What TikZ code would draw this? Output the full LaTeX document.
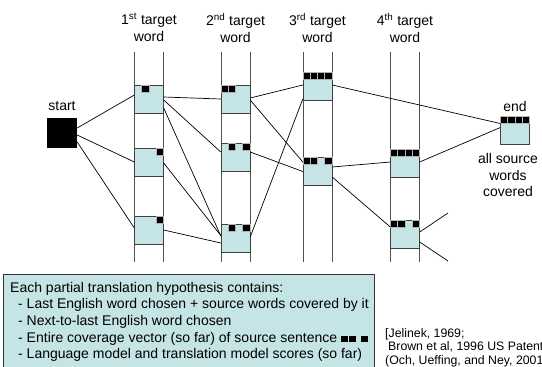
\documentclass[tikz,border=0pt]{standalone}
\usepackage{fontspec}
\setmainfont{Liberation Sans}
\usetikzlibrary{positioning}
\definecolor{hypblue}{HTML}{C4E4E6}
\definecolor{railgray}{HTML}{505050}
\newcommand{\cover}[2]{%
  \foreach \idx in {#2}
    \filldraw[covcell] ([xshift={(\idx-1)*7.25bp}]#1.north west) rectangle ++(7.25,7);}
\newcommand{\cvcell}{\rule{7bp}{6.5bp}}

\begin{document}
\begin{tikzpicture}[
    x=1bp, y=-1bp,
    hyp/.style={
        draw=black!75,
        fill=hypblue,
        minimum width=29bp,
        minimum height=28bp,
        inner sep=0pt
    },
    covcell/.style={fill=black, draw=gray!60, line width=0.3bp},
    link/.style={line width=0.7bp},
    rail/.style={draw=railgray, line width=1bp},
    lbl/.style={font=\fontsize{14bp}{16.7bp}\selectfont, align=center, inner sep=0pt},
    note/.style={
        draw=black!80,
        fill=hypblue,
        inner sep=0pt,
        minimum width=371bp,
        minimum height=97bp
    }
]
\useasboundingbox (0,0) rectangle (542,366);

% columns of target positions
\foreach \x in {149,235.5,317.5,405}{
    \draw[rail] ({\x-14.5},52) -- ({\x-14.5},262);
    \draw[rail] ({\x+14.5},52) -- ({\x+14.5},262);
}

\node[lbl, anchor=north] (w1) at (149,13) {1\textsuperscript{st} target\\word};
\node[lbl, anchor=north] (w2) at (235.5,13) {2\textsuperscript{nd} target\\word};
\node[lbl, anchor=north] (w3) at (317.5,13) {3\textsuperscript{rd} target\\word};
\node[lbl, anchor=north] (w4) at (405,13) {4\textsuperscript{th} target\\word};

\node[fill=black, minimum size=30bp, inner sep=0pt] (start) at (62,133) {};
\node[lbl, above=7bp of start] (startlbl) {start};

% hypotheses
\node[hyp] (h11) at (149,99) {};
\node[hyp] (h12) at (149,162) {};
\node[hyp] (h13) at (149,230) {};
\node[hyp] (h21) at (235.5,99) {};
\node[hyp] (h22) at (235.5,157.5) {};
\node[hyp] (h23) at (235.5,238.5) {};
\node[hyp] (h31) at (317.5,86.5) {};
\node[hyp] (h32) at (317.5,171.5) {};
\node[hyp] (h41) at (405,163.5) {};
\node[hyp] (h42) at (405,234) {};
\node[hyp] (fin) at (515,130.5) {};
\node[lbl, above=4bp of fin] (finlbl) {end};
\node[lbl, below=8.3bp of fin, xshift=-7bp] (finnote) {all source\\words\\covered};

\cover{h11}{2}
\cover{h12}{4}
\cover{h13}{4}
\cover{h21}{1,2}
\cover{h22}{2,4}
\cover{h23}{2,4}
\cover{h31}{1,2,3,4}
\cover{h32}{1,2,4}
\cover{h41}{1,2,3,4}
\cover{h42}{1,2,4}
\cover{fin}{1,2,3,4}

\coordinate (o1) at (448,213);
\coordinate (o2) at (448,261);

\draw[link] ([yshift=5bp]start.east) -- ([yshift=4bp]h11.west);
\draw[link] ([yshift=-2bp]start.east) -- (h12.west);
\draw[link] ([yshift=-9bp]start.east) -- ([yshift=2bp]h13.west);

\draw[link] ([yshift=2bp]h11.east) -- (h21.west);
\draw[link] ([yshift=-1bp]h11.east) -- ([yshift=5.5bp]h22.west);
\draw[link] ([yshift=-9bp]h11.east) -- ([yshift=2.5bp]h23.west);
\draw[link] ([yshift=-1bp]h12.east) -- ([yshift=3bp]h23.west);
\draw[link] (h13.east) -- ([yshift=-4.5bp]h23.west);

\draw[link] ([yshift=1bp]h21.east) -- ([yshift=1.5bp]h31.west);
\draw[link] ([yshift=-1bp]h21.east) -- ([yshift=9.5bp]h32.west);
\draw[link] ([yshift=5.5bp]h22.east) -- (h32.west);
\draw[link] ([yshift=1.5bp]h23.east) -- ([yshift=-12.5bp]h31.west);

\draw[link] ([yshift=1.5bp]h31.east) -- ([yshift=7bp]fin.west);
\draw[link] ([yshift=4.5bp]h32.east) -- ([yshift=1.5bp]h41.west);
\draw[link] ([yshift=-5.5bp]h32.east) -- ([yshift=7bp]h42.west);
\draw[link] ([yshift=1.5bp]h41.east) -- ([yshift=3bp]fin.west);
\draw[link] ([yshift=2bp]h42.east) -- (o1);
\draw[link] ([yshift=-8bp]h42.east) -- (o2);

% what a hypothesis stores
\node[note, anchor=north west] (note) at (3,273.5) {};
\node[lbl, align=left, anchor=north west] (notetext) at ([xshift=7bp,yshift=-8.3bp]note.north west) {%
Each partial translation hypothesis contains:\\
\hspace*{8bp}- Last English word chosen + source words covered by it\\
\hspace*{8bp}- Next-to-last English word chosen\\
\hspace*{8bp}- Entire coverage vector (so far) of source sentence\hspace{4bp}\cvcell\hspace{0.6bp}\cvcell\hspace{5bp}\cvcell\\
\hspace*{8bp}- Language model and translation model scores (so far)};

\node[align=left, anchor=north west, inner sep=0pt, font=\fontsize{12.3bp}{13.6bp}\selectfont] (refs) at (385,328) {%
[Jelinek, 1969;\\
\hspace*{3bp}Brown et al, 1996 US Patent\\
(Och, Ueffing, and Ney, 2001)]};

\end{tikzpicture}
\end{document}
